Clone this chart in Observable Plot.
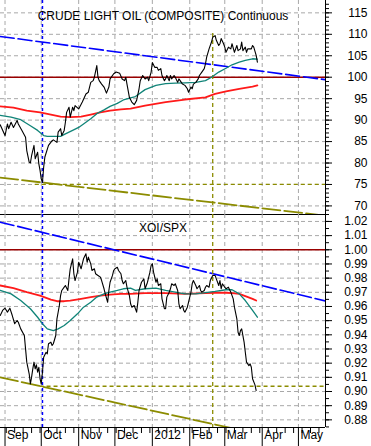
<!DOCTYPE html>
<html><head><meta charset="utf-8">
<script src="https://cdn.jsdelivr.net/npm/d3@7"></script>
<script src="https://cdn.jsdelivr.net/npm/@observablehq/plot@0.6"></script>
<style>
html,body{margin:0;padding:0;background:#fff;}
#chart{position:relative;width:371px;height:446px;overflow:hidden;}
#chart svg{position:absolute;left:0;}
</style></head><body><div id="chart"></div>
<script>
// ---------- DATA ----------
const oilTitle = "CRUDE LIGHT OIL (COMPOSITE) Continuous";
const ratioTitle = "XOI/SPX";
const oilDates = ["2011-08-28","2011-09-01","2011-09-03","2011-09-04","2011-09-06","2011-09-08","2011-09-11","2011-09-12","2011-09-15","2011-09-18","2011-09-19","2011-09-21","2011-09-22","2011-09-23","2011-09-25","2011-09-26","2011-09-28","2011-09-29","2011-09-30","2011-10-01","2011-10-02","2011-10-03","2011-10-04","2011-10-07","2011-10-10","2011-10-11","2011-10-14","2011-10-15","2011-10-17","2011-10-18","2011-10-20","2011-10-21","2011-10-22","2011-10-24","2011-10-25","2011-10-27","2011-10-28","2011-10-29","2011-11-01","2011-11-04","2011-11-07","2011-11-09","2011-11-11","2011-11-13","2011-11-14","2011-11-16","2011-11-17","2011-11-18","2011-11-20","2011-11-22","2011-11-24","2011-11-26","2011-11-27","2011-11-30","2011-12-02","2011-12-05","2011-12-07","2011-12-09","2011-12-10","2011-12-11","2011-12-13","2011-12-15","2011-12-17","2011-12-19","2011-12-21","2011-12-22","2011-12-24","2011-12-26","2011-12-28","2011-12-29","2011-12-31","2012-01-01","2012-01-03","2012-01-05","2012-01-06","2012-01-08","2012-01-09","2012-01-11","2012-01-12","2012-01-13","2012-01-15","2012-01-16","2012-01-17","2012-01-19","2012-01-20","2012-01-22","2012-01-23","2012-01-24","2012-01-26","2012-01-28","2012-01-30","2012-01-31","2012-02-02","2012-02-03","2012-02-04","2012-02-06","2012-02-08","2012-02-09","2012-02-11","2012-02-13","2012-02-14","2012-02-15","2012-02-17","2012-02-19","2012-02-20","2012-02-22","2012-02-23","2012-02-25","2012-02-26","2012-02-27","2012-02-29","2012-03-01","2012-03-02","2012-03-04","2012-03-06","2012-03-07","2012-03-09","2012-03-11","2012-03-12","2012-03-14","2012-03-15","2012-03-16","2012-03-18","2012-03-19","2012-03-20","2012-03-23","2012-03-24","2012-03-25","2012-03-27","2012-03-28"];
const oilClose = [88.9,86.4,89.1,88.0,89.5,88.3,89.9,89.1,87.6,86.0,82.9,80.2,80.0,81.7,84.1,81.0,82.5,79.8,78.3,76.3,75.5,79.0,81.4,84.1,85.2,85.4,84.8,87.2,88.0,86.4,87.6,89.5,91.8,93.0,90.7,93.0,92.2,93.4,92.6,94.2,96.1,96.5,98.8,99.2,100.0,102.7,100.0,99.2,98.4,97.7,96.3,97.7,99.6,100.8,101.2,100.9,99.6,99.2,100.0,98.4,95.3,94.2,93.6,94.6,97.3,99.2,100.4,99.6,100.0,99.2,101.2,103.4,102.3,102.3,101.6,102.0,100.4,99.2,99.6,100.4,99.2,100.4,99.6,100.4,100.0,98.8,99.6,99.2,98.4,98.1,97.3,96.5,97.7,97.3,98.4,98.8,99.6,100.4,101.2,102.0,103.1,104.7,106.6,108.2,109.3,109.7,108.6,107.4,107.8,109.0,107.8,107.0,105.8,107.0,106.6,107.8,105.8,107.4,106.2,106.6,108.2,106.2,107.0,105.8,106.6,106.6,107.4,107.0,105.1,103.5];

const oilMa50Dates = ["2011-08-28","2011-09-06","2011-09-14","2011-09-22","2011-09-28","2011-10-03","2011-10-06","2011-10-11","2011-10-17","2011-10-21","2011-10-27","2011-11-01","2011-11-07","2011-11-11","2011-11-16","2011-11-22","2011-11-27","2011-12-03","2011-12-08","2011-12-14","2011-12-18","2011-12-26","2012-01-04","2012-01-12","2012-01-20","2012-01-28","2012-02-06","2012-02-14","2012-02-19","2012-02-25","2012-03-02","2012-03-07","2012-03-13","2012-03-18","2012-03-24","2012-03-28"];
const oilMa50 = [91.1,90.7,90.1,88.7,87.6,86.4,86.2,86.2,86.2,86.8,87.6,88.3,89.5,90.3,91.5,92.4,93.2,93.9,94.7,95.2,95.5,97.1,98.1,98.5,98.6,98.7,98.8,99.2,100.0,101.2,102.1,102.9,103.5,103.9,104.3,104.2];

const oilMa200Dates = ["2011-08-28","2011-09-08","2011-09-19","2011-09-30","2011-10-09","2011-10-17","2011-10-25","2011-11-03","2011-11-11","2011-11-19","2011-11-27","2011-12-06","2011-12-14","2011-12-26","2012-01-12","2012-01-28","2012-02-14","2012-02-22","2012-03-02","2012-03-13","2012-03-24","2012-03-28"];
const oilMa200 = [93.2,92.9,92.2,91.8,91.3,90.8,90.7,90.8,91.3,91.8,92.2,92.5,92.7,93.4,94.2,94.8,95.3,96.1,96.7,97.3,97.8,98.1];

const ratioDates = ["2011-08-28","2011-08-30","2011-09-01","2011-09-03","2011-09-05","2011-09-07","2011-09-09","2011-09-11","2011-09-12","2011-09-14","2011-09-17","2011-09-18","2011-09-19","2011-09-21","2011-09-22","2011-09-23","2011-09-24","2011-09-25","2011-09-26","2011-09-27","2011-09-28","2011-09-29","2011-09-30","2011-10-01","2011-10-02","2011-10-03","2011-10-05","2011-10-06","2011-10-07","2011-10-09","2011-10-10","2011-10-11","2011-10-13","2011-10-14","2011-10-16","2011-10-17","2011-10-18","2011-10-20","2011-10-21","2011-10-23","2011-10-24","2011-10-25","2011-10-27","2011-10-28","2011-10-29","2011-10-31","2011-11-01","2011-11-03","2011-11-05","2011-11-07","2011-11-08","2011-11-09","2011-11-11","2011-11-12","2011-11-14","2011-11-15","2011-11-17","2011-11-19","2011-11-20","2011-11-22","2011-11-23","2011-11-25","2011-11-26","2011-11-27","2011-11-29","2011-11-30","2011-12-01","2011-12-03","2011-12-04","2011-12-06","2011-12-07","2011-12-08","2011-12-10","2011-12-11","2011-12-13","2011-12-14","2011-12-15","2011-12-17","2011-12-19","2011-12-20","2011-12-21","2011-12-23","2011-12-25","2011-12-26","2011-12-28","2011-12-30","2011-12-31","2012-01-01","2012-01-02","2012-01-04","2012-01-05","2012-01-06","2012-01-08","2012-01-09","2012-01-11","2012-01-12","2012-01-13","2012-01-15","2012-01-16","2012-01-17","2012-01-19","2012-01-20","2012-01-22","2012-01-23","2012-01-24","2012-01-26","2012-01-27","2012-01-28","2012-01-30","2012-01-31","2012-02-02","2012-02-03","2012-02-04","2012-02-06","2012-02-07","2012-02-09","2012-02-10","2012-02-11","2012-02-13","2012-02-14","2012-02-15","2012-02-17","2012-02-18","2012-02-20","2012-02-22","2012-02-23","2012-02-25","2012-02-26","2012-02-27","2012-02-28","2012-03-01","2012-03-02","2012-03-04","2012-03-06","2012-03-08","2012-03-09","2012-03-11","2012-03-12","2012-03-13","2012-03-14","2012-03-15","2012-03-17","2012-03-18","2012-03-19","2012-03-21","2012-03-22","2012-03-23","2012-03-24","2012-03-26","2012-03-27"];
const ratioValues = [0.9536,0.9572,0.9588,0.9560,0.9588,0.9536,0.9478,0.9501,0.9489,0.9442,0.9395,0.9301,0.9207,0.9125,0.9054,0.9101,0.9160,0.9207,0.9160,0.9188,0.9136,0.9171,0.9090,0.9054,0.9136,0.9242,0.9277,0.9266,0.9337,0.9348,0.9325,0.9337,0.9395,0.9513,0.9607,0.9677,0.9713,0.9736,0.9748,0.9713,0.9795,0.9866,0.9936,0.9831,0.9783,0.9842,0.9912,0.9866,0.9936,0.9972,0.9912,0.9948,0.9901,0.9854,0.9866,0.9831,0.9819,0.9807,0.9783,0.9725,0.9689,0.9630,0.9713,0.9771,0.9819,0.9854,0.9866,0.9877,0.9854,0.9831,0.9783,0.9760,0.9783,0.9736,0.9677,0.9619,0.9595,0.9607,0.9560,0.9630,0.9713,0.9771,0.9795,0.9725,0.9771,0.9842,0.9889,0.9901,0.9842,0.9771,0.9795,0.9748,0.9760,0.9654,0.9584,0.9584,0.9666,0.9701,0.9725,0.9760,0.9748,0.9760,0.9713,0.9619,0.9584,0.9607,0.9572,0.9560,0.9595,0.9630,0.9701,0.9760,0.9783,0.9748,0.9725,0.9748,0.9713,0.9701,0.9713,0.9736,0.9748,0.9736,0.9783,0.9819,0.9819,0.9795,0.9748,0.9783,0.9725,0.9760,0.9736,0.9725,0.9736,0.9701,0.9654,0.9595,0.9513,0.9418,0.9395,0.9430,0.9442,0.9348,0.9277,0.9207,0.9183,0.9195,0.9171,0.9090,0.9047,0.9007];

const ratioMa50Dates = ["2011-08-28","2011-09-06","2011-09-14","2011-09-22","2011-09-28","2011-10-02","2011-10-06","2011-10-11","2011-10-15","2011-10-20","2011-10-25","2011-10-31","2011-11-05","2011-11-11","2011-11-16","2011-11-22","2011-11-27","2011-12-03","2011-12-08","2011-12-14","2011-12-18","2011-12-26","2012-01-04","2012-01-12","2012-01-20","2012-01-28","2012-02-06","2012-02-14","2012-02-22","2012-03-02","2012-03-07","2012-03-13","2012-03-18","2012-03-24","2012-03-28"];
const ratioMa50 = [0.9713,0.9689,0.9642,0.9584,0.9524,0.9478,0.9442,0.9430,0.9442,0.9466,0.9501,0.9548,0.9595,0.9630,0.9666,0.9689,0.9701,0.9713,0.9725,0.9729,0.9713,0.9725,0.9729,0.9713,0.9701,0.9689,0.9689,0.9697,0.9706,0.9718,0.9718,0.9689,0.9642,0.9572,0.9524];

const ratioMa200Dates = ["2011-08-28","2011-09-08","2011-09-19","2011-09-30","2011-10-09","2011-10-14","2011-10-20","2011-10-25","2011-11-03","2011-11-11","2011-11-19","2011-11-27","2011-12-06","2011-12-14","2011-12-26","2012-01-12","2012-01-28","2012-02-14","2012-02-22","2012-03-02","2012-03-07","2012-03-13","2012-03-18","2012-03-24","2012-03-27"];
const ratioMa200 = [0.9748,0.9729,0.9701,0.9677,0.9649,0.9637,0.9637,0.9642,0.9654,0.9666,0.9677,0.9684,0.9689,0.9689,0.9694,0.9694,0.9689,0.9694,0.9697,0.9697,0.9694,0.9689,0.9673,0.9654,0.9642];

// trend lines (two end points each) and reference levels
const trendDates = ["2011-08-28","2012-05-24"];
const oilResistance = [109.5, 99.4];
const oilSupport = [76.6, 67.7];
const ratioResistance = [1.0195, 0.9637];
const ratioSupport = [0.910, 0.8595];
const oilLevel = 100, oilSupportLevel = 75, oilSupportStart = "2011-09-26";
const ratioLevel = 1.00, ratioSupportLevel = 0.9037, ratioSupportStart = "2011-09-30";
const lowDate = "2011-10-02", highDate = "2012-02-20", oilHighValue = 110.2;

const oilTicks = [70,75,80,85,90,95,100,105,110,115];
const ratioTicks = [0.88,0.89,0.90,0.91,0.92,0.93,0.94,0.95,0.96,0.97,0.98,0.99,1.00,1.01,1.02];
const monthLabels = ["Sep","Oct","Nov","Dec","2012","Feb","Mar","Apr","May"];
const monthStarts = ["2011-09-01","2011-10-01","2011-11-01","2011-12-01","2012-01-01","2012-02-01","2012-03-01","2012-04-01","2012-05-01"];

// ---------- BUILD ----------
const D = s => new Date(s);
const pts = (ds, vs) => ds.map((d, i) => ({date: D(d), v: vs[i]}));
const xDomain = [new Date("2011-08-28T06:00Z"), new Date("2012-05-23T10:00Z")];
const months = monthStarts.map(D);
const fridays = d3.utcFriday.range(xDomain[0], xDomain[1]);
const FONT = "'Liberation Sans', Arial, Helvetica, sans-serif";
const grid = {stroke: "#a8a8a8", strokeOpacity: 1, strokeDasharray: "4,3", strokeWidth: 1};
const BLUE = "#0000ff", OLIVE = "#8c8c00", TEAL = "#108478", RED = "#ff1a1a", DARKRED = "#990000";
const oilMinor = d3.range(68, 118, 1);
const ratioMinor = d3.range(0.875, 1.025, 0.005);

const common = {
  width: 371, marginLeft: 0, marginRight: 46, marginTop: 0,
  x: {type: "utc", domain: xDomain, axis: null},
  style: {fontFamily: FONT, fontSize: "12px", background: "none", color: "#000", overflow: "visible"}
};

const topPlot = Plot.plot({
  ...common, height: 215, marginBottom: 1,
  y: {domain: [68.0, 117.88], axis: null},
  marks: [
    Plot.gridX(months, grid),
    Plot.gridY(oilTicks, grid),
    Plot.ruleY([oilLevel], {stroke: DARKRED, strokeWidth: 1.5}),
    Plot.ruleY([oilSupportLevel], {x1: D(oilSupportStart), x2: xDomain[1], stroke: OLIVE, strokeWidth: 1.3, strokeDasharray: "4,3"}),
    Plot.line(pts(trendDates, oilResistance), {x: "date", y: "v", stroke: BLUE, strokeWidth: 1.6, strokeDasharray: "14,4", clip: true}),
    Plot.line(pts(trendDates, oilSupport), {x: "date", y: "v", stroke: OLIVE, strokeWidth: 1.8, strokeDasharray: "18,4", clip: true}),
    Plot.ruleX([D(lowDate)], {stroke: BLUE, strokeWidth: 1.5, strokeDasharray: "3,3"}),
    Plot.ruleX([D(highDate)], {y1: oilHighValue, y2: 68.0, stroke: OLIVE, strokeWidth: 1.3, strokeDasharray: "4,3"}),
    Plot.line(pts(oilMa200Dates, oilMa200), {x: "date", y: "v", stroke: RED, strokeWidth: 1.8}),
    Plot.line(pts(oilMa50Dates, oilMa50), {x: "date", y: "v", stroke: TEAL, strokeWidth: 1.3}),
    Plot.line(pts(oilDates, oilClose), {x: "date", y: "v", stroke: "#000", strokeWidth: 1.1}),
    Plot.ruleY([68.0], {stroke: "#000", strokeWidth: 1}),
    Plot.ruleX([xDomain[1]], {stroke: "#000", strokeWidth: 1}),
    Plot.axisY(oilMinor, {anchor: "right", tickSize: 3, tickFormat: () => "", label: null}),
    Plot.axisY(oilTicks, {anchor: "right", tickSize: 6, tickFormat: () => "", label: null}),
    Plot.text(oilTicks, {y: d => d, text: d => String(d), frameAnchor: "right", dx: 42, textAnchor: "end", fontSize: 12}),
    Plot.text([oilTitle], {frameAnchor: "top", dy: 11, fontSize: 12})
  ]
});

const botPlot = Plot.plot({
  ...common, height: 232, marginBottom: 19,
  y: {domain: [0.8746, 1.0249], axis: null},
  marks: [
    Plot.gridX(months, grid),
    Plot.gridY(ratioTicks, grid),
    Plot.ruleY([ratioLevel], {stroke: DARKRED, strokeWidth: 1.5}),
    Plot.ruleY([ratioSupportLevel], {x1: D(ratioSupportStart), x2: xDomain[1], stroke: OLIVE, strokeWidth: 1.3, strokeDasharray: "4,3"}),
    Plot.line(pts(trendDates, ratioResistance), {x: "date", y: "v", stroke: BLUE, strokeWidth: 1.6, strokeDasharray: "14,4", clip: true}),
    Plot.line(pts(trendDates, ratioSupport), {x: "date", y: "v", stroke: OLIVE, strokeWidth: 1.8, strokeDasharray: "18,4", clip: true}),
    Plot.ruleX([D(lowDate)], {stroke: BLUE, strokeWidth: 1.5, strokeDasharray: "3,3"}),
    Plot.ruleX([D(highDate)], {stroke: OLIVE, strokeWidth: 1.3, strokeDasharray: "4,3"}),
    Plot.line(pts(ratioMa200Dates, ratioMa200), {x: "date", y: "v", stroke: RED, strokeWidth: 1.8}),
    Plot.line(pts(ratioMa50Dates, ratioMa50), {x: "date", y: "v", stroke: TEAL, strokeWidth: 1.3}),
    Plot.line(pts(ratioDates, ratioValues), {x: "date", y: "v", stroke: "#000", strokeWidth: 1.1}),
    Plot.ruleY([0.8746], {stroke: "#000", strokeWidth: 1}),
    Plot.ruleX([xDomain[1]], {stroke: "#000", strokeWidth: 1}),
    Plot.axisY(ratioMinor, {anchor: "right", tickSize: 3, tickFormat: () => "", label: null}),
    Plot.axisY(ratioTicks, {anchor: "right", tickSize: 6, tickFormat: () => "", label: null}),
    Plot.text(ratioTicks, {y: d => d, text: d => d.toFixed(2), frameAnchor: "right", dx: 42, textAnchor: "end", fontSize: 12}),
    Plot.axisX(fridays, {anchor: "bottom", tickSize: 6, tickFormat: () => "", label: null}),
    Plot.axisX(months, {anchor: "bottom", tickSize: 19, tickFormat: () => "", label: null}),
    Plot.text(monthLabels, {x: (d, i) => months[i], text: d => d, frameAnchor: "bottom", dy: 11, dx: 2, textAnchor: "start", fontSize: 12}),
    Plot.text([ratioTitle], {frameAnchor: "top", dy: 9, fontSize: 12})
  ]
});

const chart = document.getElementById("chart");
topPlot.style.top = "0px";
botPlot.style.top = "214px";
chart.appendChild(topPlot);
chart.appendChild(botPlot);
</script>
</body></html>
